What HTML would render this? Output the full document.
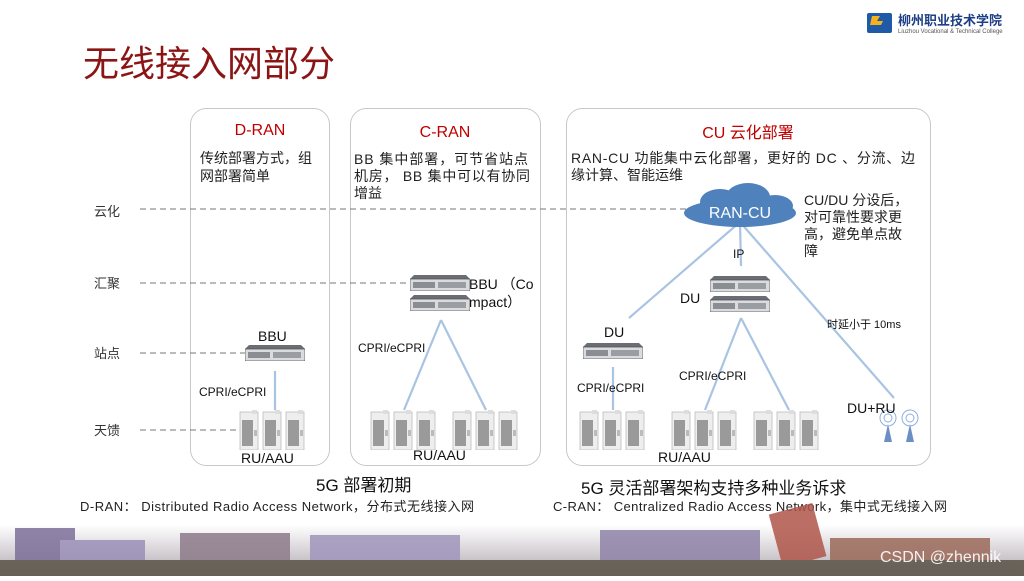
<!DOCTYPE html>
<html><head><meta charset="utf-8"><style>
body{margin:0;width:1024px;height:576px;overflow:hidden;background:#fff;font-family:"Liberation Sans","Noto Sans CJK SC",sans-serif}
svg text{font-family:"Liberation Sans","Noto Sans CJK SC",sans-serif}
</style></head><body>
<svg width="1024" height="576" viewBox="0 0 1024 576" xmlns="http://www.w3.org/2000/svg">
<defs>
<symbol id="srv" viewBox="0 0 60 16"><path d="M4 0H56L60 4H0Z" fill="#6a6d74"/><rect x="0" y="4" width="60" height="12" fill="#d9dbde" stroke="#555" stroke-width="0.8"/><rect x="3" y="7" width="22" height="6" fill="#8a8d92"/><rect x="28" y="7" width="28" height="6" fill="#9a9da2"/></symbol>
<symbol id="cab" viewBox="0 0 20 40"><rect x="1" y="2" width="18" height="38" fill="#eeeeee" stroke="#bbb" stroke-width="0.8"/><rect x="3" y="10" width="11" height="26" fill="#9a9a9a"/><rect x="15" y="20" width="3" height="6" fill="#bbb"/><rect x="13" y="0" width="5" height="4" fill="#ddd"/></symbol>
<g id="rru"><use href="#cab" x="0" y="0" width="20" height="40"/><use href="#cab" x="23" y="0" width="20" height="40"/><use href="#cab" x="46" y="0" width="20" height="40"/></g>
</defs>
<rect x="867" y="13" width="25" height="20" rx="2" fill="#1e5aa8"/><path d="M872 16h8l-3 5h6l-2 4h-11z" fill="#f5b21a"/>
<text x="898" y="25" font-size="13" fill="#1e3f86" font-weight="bold">柳州职业技术学院</text>
<text x="898" y="33" font-size="6" fill="#555">Liuzhou Vocational &amp; Technical College</text>
<text x="83" y="76" font-size="36" fill="#8b1414">无线接入网部分</text>
<rect x="190.5" y="108.5" width="139" height="357" rx="16" fill="none" stroke="#c8c8c8"/>
<rect x="350.5" y="108.5" width="190" height="357" rx="16" fill="none" stroke="#c8c8c8"/>
<rect x="566.5" y="108.5" width="364" height="357" rx="16" fill="none" stroke="#c8c8c8"/>
<g font-size="16" fill="#c00000" text-anchor="middle"><text x="260" y="135">D-RAN</text><text x="445" y="137">C-RAN</text><text x="748" y="138">CU 云化部署</text></g>
<g font-size="14" fill="#222">
<text x="200" y="163">传统部署方式，组</text><text x="200" y="181">网部署简单</text>
<text x="354" y="164" textLength="174">BB 集中部署，可节省站点</text><text x="354" y="181" textLength="176">机房， BB 集中可以有协同</text><text x="354" y="198">增益</text>
<text x="571" y="163" textLength="344">RAN-CU 功能集中云化部署，更好的 DC 、分流、边</text><text x="571" y="180">缘计算、智能运维</text>
<text x="804" y="205">CU/DU 分设后，</text><text x="804" y="222">对可靠性要求更</text><text x="804" y="239">高，避免单点故</text><text x="804" y="256">障</text>
</g>
<g font-size="13" fill="#333"><text x="94" y="216">云化</text><text x="94" y="288">汇聚</text><text x="94" y="358">站点</text><text x="94" y="435">天馈</text></g>
<g stroke="#777" stroke-dasharray="6,4" stroke-width="1"><line x1="140" y1="209" x2="690" y2="209"/><line x1="140" y1="283" x2="410" y2="283"/><line x1="140" y1="353" x2="245" y2="353"/><line x1="140" y1="430" x2="238" y2="430"/></g>
<g stroke="#a9c4e2" stroke-width="2.2" fill="none">
<line x1="275" y1="371" x2="275" y2="410"/>
<line x1="441" y1="320" x2="404" y2="410"/><line x1="441" y1="320" x2="486" y2="410"/>
<line x1="740" y1="222" x2="629" y2="318"/><line x1="740" y1="222" x2="741" y2="266"/><line x1="740" y1="222" x2="894" y2="398"/>
<line x1="613" y1="367" x2="613" y2="410"/>
<line x1="741" y1="318" x2="705" y2="410"/><line x1="741" y1="318" x2="789" y2="410"/>
</g>
<g fill="#4f81bd"><ellipse cx="740" cy="213" rx="56" ry="14"/><ellipse cx="720" cy="202" rx="20" ry="13"/><ellipse cx="748" cy="197" rx="22" ry="14"/><ellipse cx="775" cy="206" rx="18" ry="11"/></g>
<text x="740" y="218" font-size="16" fill="#fff" text-anchor="middle">RAN-CU</text>
<use href="#srv" x="245" y="345" width="60" height="16"/>
<use href="#srv" x="410" y="275" width="60" height="16"/><use href="#srv" x="410" y="295" width="60" height="16"/>
<use href="#srv" x="710" y="276" width="60" height="16"/><use href="#srv" x="710" y="296" width="60" height="16"/>
<use href="#srv" x="583" y="343" width="60" height="16"/>
<use href="#rru" x="239" y="410"/><use href="#rru" x="370" y="410"/><use href="#rru" x="452" y="410"/>
<use href="#rru" x="579" y="410"/><use href="#rru" x="671" y="410"/><use href="#rru" x="753" y="410"/>
<g fill="#6b8fc4"><path d="M884 442l4-18 4 18z"/><path d="M906 442l4-18 4 18z"/></g>
<g fill="none" stroke="#8fb0db"><circle cx="888" cy="418" r="4"/><circle cx="888" cy="418" r="8"/><circle cx="910" cy="418" r="4"/><circle cx="910" cy="418" r="8"/></g>
<g font-size="14" fill="#111"><text x="258" y="341">BBU</text><text x="469" y="289">BBU （Co</text><text x="469" y="307">mpact）</text>
<text x="680" y="303">DU</text><text x="604" y="337">DU</text><text x="847" y="413">DU+RU</text>
<text x="241" y="463">RU/AAU</text><text x="413" y="460">RU/AAU</text><text x="658" y="462">RU/AAU</text></g>
<g font-size="12" fill="#111"><text x="199" y="396">CPRI/eCPRI</text><text x="358" y="352">CPRI/eCPRI</text><text x="577" y="392">CPRI/eCPRI</text><text x="679" y="380">CPRI/eCPRI</text><text x="733" y="258">IP</text><text x="827" y="328" font-size="11">时延小于 10ms</text></g>
<text x="316" y="491" font-size="17" fill="#111">5G 部署初期</text>
<text x="581" y="494" font-size="17" fill="#111">5G 灵活部署架构支持多种业务诉求</text>
<g font-size="13" fill="#222"><text x="80" y="511" textLength="394">D-RAN： Distributed Radio Access Network，分布式无线接入网</text><text x="553" y="511" textLength="394">C-RAN： Centralized Radio Access Network，集中式无线接入网</text></g>
<defs><linearGradient id="sky" x1="0" y1="0" x2="0" y2="1"><stop offset="0" stop-color="#fff"/><stop offset="1" stop-color="#b0a8b0"/></linearGradient></defs>
<rect x="0" y="525" width="1024" height="51" fill="url(#sky)"/>
<g opacity="0.85">
<rect x="15" y="528" width="60" height="48" fill="#7d6f9a"/><rect x="60" y="540" width="85" height="36" fill="#9a8fb8"/>
<rect x="180" y="533" width="110" height="43" fill="#8d7a8a"/><rect x="310" y="535" width="150" height="41" fill="#a095bb"/>
<rect x="600" y="530" width="160" height="46" fill="#8f83a8"/><rect x="775" y="508" width="45" height="55" fill="#b0564a" transform="rotate(-15 797 535)"/>
<rect x="830" y="538" width="160" height="38" fill="#9a6a5a"/>
<rect x="0" y="560" width="1024" height="16" fill="#5a5348"/>
</g>
<text x="880" y="562" font-size="16" fill="#fff" opacity="0.9">CSDN @zhennik</text>
</svg>
</body></html>
